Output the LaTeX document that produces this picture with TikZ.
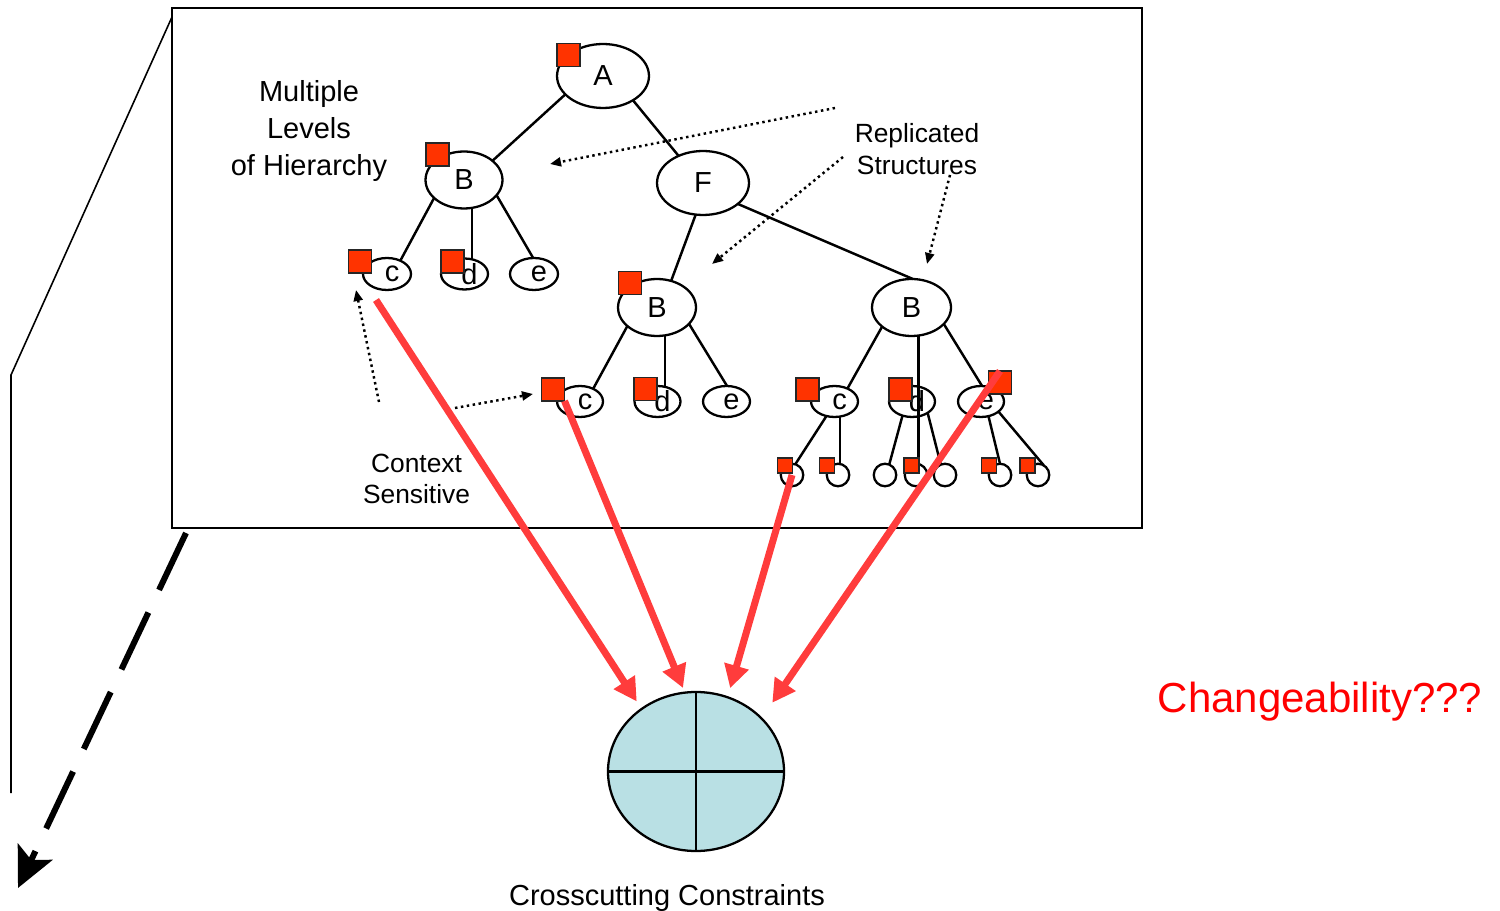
\documentclass[tikz,border=0pt]{standalone}
\usepackage{fontspec}
\setmainfont{Liberation Sans}
\usetikzlibrary{shapes.geometric,arrows.meta}
\definecolor{sqred}{RGB}{255,51,0}
\definecolor{arrowred}{RGB}{255,60,60}
\definecolor{disc}{RGB}{185,224,228}

\begin{document}
\begin{tikzpicture}[x=0.02cm,y=-0.02cm,
  lbl/.style={inner sep=0pt, align=center, font=\fontsize{16.5}{20}\selectfont},
  ell/.style 2 args={ellipse, draw, line width=1.3pt, inner sep=0pt, outer sep=0pt,
    minimum width=#1*0.04cm, minimum height=#2*0.04cm, font=\fontsize{16.5}{20}\selectfont},
  leaf/.style={circle, draw, line width=1.3pt, inner sep=0pt, outer sep=0pt, minimum size=0.45cm},
  flag/.style={draw=black!85, line width=0.8pt, fill=sqred, inner sep=0pt, outer sep=0pt,
    minimum size=#1*0.02cm},
  branch/.style={line width=1.4pt},
  hint/.style={dotted, line width=1.4pt, -{Triangle[length=0.22cm,width=0.18cm]}},
  hit/.style={draw=arrowred, line width=0.14cm, -{Triangle[length=0.46cm,width=0.48cm]}},
]
\useasboundingbox (0,0) rectangle (1500,911);

% frame around the hierarchy and its perspective edge
\node[draw, line width=1.2pt, inner sep=0pt, outer sep=0pt,
      minimum width=970*0.02cm, minimum height=520*0.02cm] (frame) at (657,268) {};
\coordinate (p0) at (172,17);
\coordinate (p1) at (11,375);
\coordinate (p2) at (11,793);
\draw[line width=0.9pt] (p0) -- (p1) -- (p2);

% dashed projection arrow
\coordinate (z0) at (186,533);
\coordinate (z1) at (18,888);
\draw[line width=0.12cm, dash pattern=on 1.26cm off 0.5cm,
      -{Stealth[length=0.8cm,width=0.76cm,inset=0.18cm]}] (z0) -- (z1);

% tree nodes
\node[ell={46}{32}] (A) at (603,76) {A};
\node[ell={38.5}{28.5}] (Bt) at (464,180) {B};
\node[ell={46}{32}] (F) at (703,183) {F};
\node[ell={24}{16}] (ct) at (387,274) {\hspace{0.2cm}c};
\node[ell={23.5}{15.5}] (dt) at (464.5,274) {\hspace{0.2cm}d};
\node[ell={24}{16}] (et) at (534,274) {\hspace{0.2cm}e};

\node[ell={39}{28.5}] (Bm) at (657,307.5) {B};
\node[ell={23}{15.5}] (cm) at (580,401.5) {\hspace{0.2cm}c};
\node[ell={23}{15.5}] (dm) at (657.5,401.5) {\hspace{0.2cm}d};
\node[ell={23.5}{15.5}] (em) at (726.5,401.5) {\hspace{0.2cm}e};

\node[ell={39.5}{28.5}] (Br) at (911.5,307.5) {B};
\node[ell={23.5}{15.5}] (cr) at (834.5,401.5) {\hspace{0.2cm}c};
\node[ell={23}{15.5}] (dr) at (912,401.5) {\hspace{0.2cm}d};
\node[ell={23}{15.5}] (er) at (981,401.5) {\hspace{0.2cm}e};

\node[leaf] (cc1) at (792,475) {};
\node[leaf] (cc2) at (838,475) {};
\node[leaf] (dc1) at (885,475) {};
\node[leaf] (dc2) at (916,475) {};
\node[leaf] (dc3) at (945,475) {};
\node[leaf] (ec1) at (1000,475) {};
\node[leaf] (ec2) at (1038,475) {};

% tree branches
\draw[branch] (A.206) -- (Bt.34.5);
\draw[branch] (A.321) -- (F.132.6);
\draw[branch] (F.257.7) -- (Bm.62.2);
\draw[branch] (F.329.3) -- (Br.87);
\draw[branch] (Bt.211.3) -- (ct.45);
\draw[branch] (Bt.286) -- (Bt.286 |- dt.north);
\draw[branch] (Bt.335.6) -- (et.93.6);
\draw[branch] (Bm.212.2) -- (cm.44);
\draw[branch] (Bm.286) -- (Bm.286 |- dm.north);
\draw[branch] (Bm.333.4) -- (em.88);
\draw[branch] (Br.213.4) -- (cr.45);
\draw[branch] (Br.284) -- (Br.284 |- dc2.north);
\draw[branch] (Br.333.8) -- (er.86);
\draw[branch] (cr.241) -- (cc1.73);
\draw[branch] (cr.290) -- (cr.290 |- cc2.north);
\draw[branch] (dr.236.3) -- (dc1.68);
\draw[branch] (dr.324) -- (dc3.112.6);
\draw[branch] (er.297) -- (ec1.90);
\draw[branch] (er.330) -- (ec2.59);

% constraint markers
\node[flag=23] (fA)  at (568.5,55) {};
\node[flag=23] (fBt) at (437.5,154.5) {};
\node[flag=23] (fct) at (360,261.5) {};
\node[flag=23] (fdt) at (452.5,261.5) {};
\node[flag=23] (fBm) at (630,283) {};
\node[flag=23] (fcm) at (553,389.5) {};
\node[flag=23] (fdm) at (645.5,389) {};
\node[flag=23] (fcr) at (807.5,389.5) {};
\node[flag=23] (fdr) at (900.5,389.5) {};
\node[flag=23] (fer) at (1000,382.5) {};
\node[flag=15] (fc1) at (785,465.5) {};
\node[flag=15] (fc2) at (827,465.5) {};
\node[flag=15] (fd2) at (911.5,465.5) {};
\node[flag=15] (fe1) at (989,465.5) {};
\node[flag=15] (fe2) at (1027.5,465.5) {};

% labels
\node[lbl, font=\fontsize{16.5}{21.1}\selectfont] (tHier) at (309,131) {Multiple\\Levels\\of Hierarchy};
\node[lbl, font=\fontsize{15}{18.1}\selectfont] (tRep) at (917,149) {Replicated\\Structures};
\node[lbl, font=\fontsize{15}{18.1}\selectfont] (tCtx) at (416.5,479) {Context\\Sensitive};
\node[lbl] (tCC) at (667,898) {Crosscutting Constraints};
\node[lbl, text=red, font=\fontsize{23.9}{28}\selectfont] (tChg) at (1320,702) {Changeability???};

% dotted pointers
\coordinate (h1s) at (835,108);  \coordinate (h1e) at (550,164);
\coordinate (h2s) at (843,157);  \coordinate (h2e) at (712,264);
\coordinate (h3s) at (950,175);  \coordinate (h3e) at (927,264);
\coordinate (h4s) at (379,402);  \coordinate (h4e) at (356,290);
\coordinate (h5s) at (455,408);  \coordinate (h5e) at (533,394);
\draw[hint] (h1s) -- (h1e);
\draw[hint] (h2s) -- (h2e);
\draw[hint] (h3s) -- (h3e);
\draw[hint] (h4s) -- (h4e);
\draw[hint] (h5s) -- (h5e);

% crosscutting constraint set
\node[ellipse, draw, line width=1.3pt, fill=disc, inner sep=0pt, outer sep=0pt,
      minimum width=176*0.02cm, minimum height=159*0.02cm] (CC) at (696,771.5) {};
\draw[line width=1.3pt] (CC.north) -- (CC.south);
\draw[line width=1.3pt] (CC.west) -- (CC.east);

% red arrows into the constraint set
\coordinate (r1) at (376,300);
\draw[hit, shorten >=0.18cm] (r1) -- (CC.131.6);
\draw[hit, shorten >=0.1cm] (fcm.south east) -- (CC.98.7);
\draw[hit, shorten >=0.19cm] (cc1.center) -- (CC.67.1);
\draw[hit, shorten >=0.38cm] (fer.north) -- (CC.39.5);
\end{tikzpicture}
\end{document}
